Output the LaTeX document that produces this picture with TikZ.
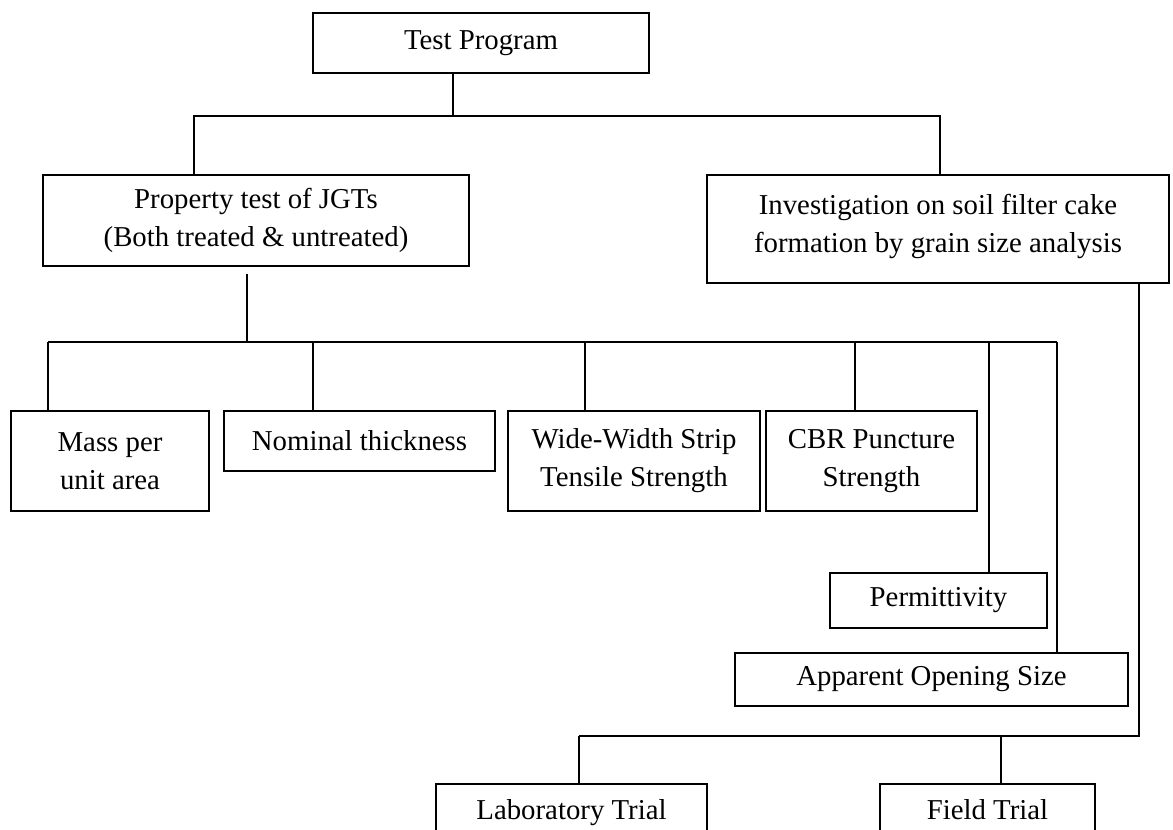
\documentclass[tikz,border=0pt]{standalone}
\usepackage{fontspec}
\setmainfont{Liberation Serif}

\tikzset{
  box/.style={draw, line width=1pt, inner sep=0pt, align=center,
    font=\fontsize{14.4}{19}\selectfont},
}

\begin{document}
\begin{tikzpicture}[x=0.5pt, y=-0.5pt, line width=1pt]
  \useasboundingbox (0,0) rectangle (1173,830);
  \clip (0,0) rectangle (1173,830);

  \node [box, minimum width=168pt, minimum height=30pt] (test) at (481,43) {Test Program};
  \node [box, minimum width=213pt, minimum height=45.5pt] (prop) at (256,220.5) {Property test of JGTs\\(Both treated \& untreated)};
  \node [box, minimum width=231pt, minimum height=54pt, text depth=6pt] (inv) at (938,229) {Investigation on soil filter cake\\formation by grain size analysis};

  \node [box, minimum width=99pt, minimum height=50pt] (mass) at (110,461) {Mass per\\unit area};
  \node [box, minimum width=135.5pt, minimum height=30pt] (nom) at (359.5,441) {Nominal thickness};
  \node [box, minimum width=126pt, minimum height=50pt] (wide) at (634,461) {Wide-Width Strip\\Tensile Strength};
  \node [box, minimum width=105.5pt, minimum height=50pt] (cbr) at (871.5,461) {CBR Puncture\\Strength};
  \node [box, minimum width=108.5pt, minimum height=27.5pt] (perm) at (938.5,600.5) {Permittivity};
  \node [box, minimum width=196.5pt, minimum height=26.5pt] (aos) at (931.5,679.5) {Apparent Opening Size};

  \node [box, minimum width=135.5pt, minimum height=29pt, text depth=3pt] (lab) at (571.5,813) {Laboratory Trial};
  \node [box, minimum width=107.5pt, minimum height=29pt, text depth=3pt] (field) at (987.5,813) {Field Trial};

  % top level
  \coordinate (top-m) at (453,116);
  \coordinate (top-l) at (194,116);
  \coordinate (top-r) at (940,116);
  \draw (test.south -| top-m) -- (top-m);
  \draw (prop.north -| top-l) -- (top-l) -- (top-r) -- (inv.north -| top-r);

  % property tests
  \coordinate (pb) at (247,342);
  \draw ([yshift=-3.5pt]prop.south -| pb) -- (pb);
  \draw (48,342) -- (1057,342);
  \foreach \n/\x in {mass/48, nom/313, wide/585, cbr/855, perm/989, aos/1057} {
    \coordinate (c) at (\x,342);
    \draw (c) -- (\n.north -| c);
  }

  % trials
  \coordinate (ib) at (1139,736);
  \draw (inv.south -| ib) -- (ib) -- (579,736);
  \foreach \n/\x in {lab/579, field/1001} {
    \coordinate (c) at (\x,736);
    \draw (c) -- (\n.north -| c);
  }
\end{tikzpicture}
\end{document}
